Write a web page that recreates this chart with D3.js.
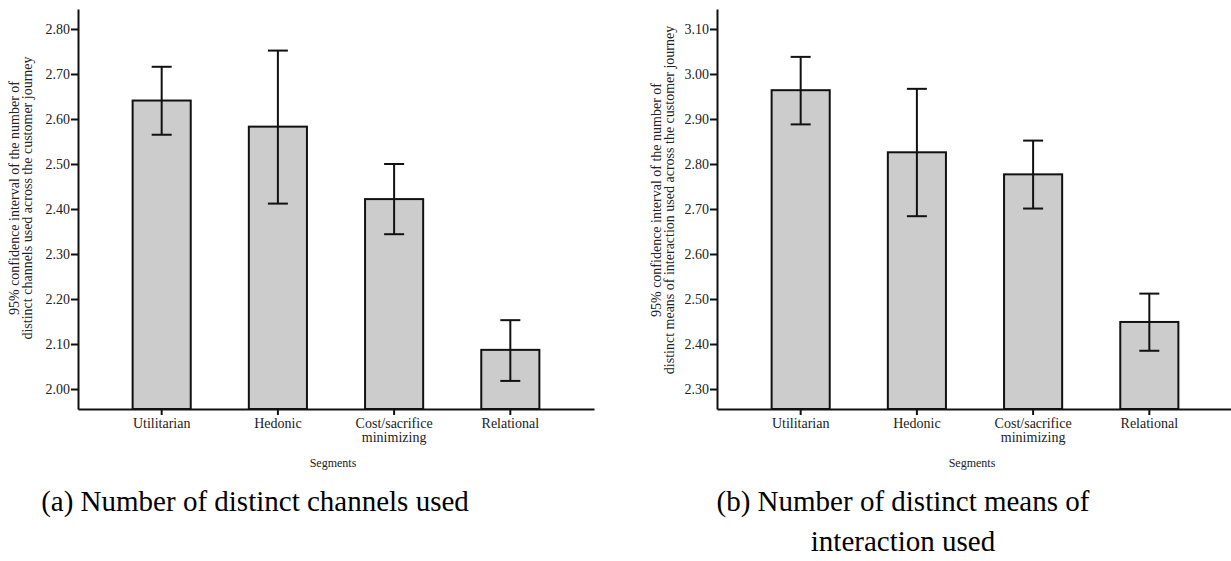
<!DOCTYPE html>
<html>
<head>
<meta charset="utf-8">
<script src="https://cdn.jsdelivr.net/npm/d3@7"></script>
<style>
  html, body { margin: 0; padding: 0; background: #fff; }
  svg { display: block; font-family: "Liberation Serif", "Times New Roman", serif; }
</style>
</head>
<body>
<svg id="chart" width="1231" height="561"></svg>
<script>
// ---- data ----
const categories = ["Utilitarian", "Hedonic", "Cost/sacrifice minimizing", "Relational"];
const categoryLines = [["Utilitarian"], ["Hedonic"], ["Cost/sacrifice", "minimizing"], ["Relational"]];

const channelsMean  = [2.641, 2.583, 2.422, 2.087];
const channelsLower = [2.565, 2.412, 2.344, 2.018];
const channelsUpper = [2.716, 2.752, 2.500, 2.153];
const channelsTicks = [2.00, 2.10, 2.20, 2.30, 2.40, 2.50, 2.60, 2.70, 2.80];

const meansMean  = [2.964, 2.826, 2.777, 2.449];
const meansLower = [2.888, 2.684, 2.701, 2.385];
const meansUpper = [3.038, 2.967, 2.852, 2.512];
const meansTicks = [2.30, 2.40, 2.50, 2.60, 2.70, 2.80, 2.90, 3.00, 3.10];

const channelsYLabel = ["95% confidence interval of the number of", "distinct channels used across the customer journey"];
const meansYLabel = ["95% confidence interval of the number of", "distinct means of interaction used across the customer journey"];
const xTitle = "Segments";
const captionA = ["(a) Number of distinct channels used"];
const captionB = ["(b) Number of distinct means of", "interaction used"];

// ---- drawing ----
const svg = d3.select("#chart");

function panel(opts) {
  const g = svg.append("g");
  const x = d3.scaleBand().domain(categories).range([opts.x0, opts.x1])
    .paddingInner(0.5).paddingOuter(0.47);
  const y = d3.scaleLinear().domain(opts.domain).range([409, 9]);

  const rows = categories.map((c, i) => ({
    c, lines: categoryLines[i], m: opts.mean[i], lo: opts.lower[i], hi: opts.upper[i]
  }));

  // bars
  g.selectAll("rect.bar").data(rows).join("rect")
    .attr("class", "bar")
    .attr("x", d => x(d.c))
    .attr("width", x.bandwidth())
    .attr("y", d => y(d.m))
    .attr("height", d => y(opts.domain[0]) - y(d.m))
    .attr("fill", "#cccccc")
    .attr("stroke", "#111")
    .attr("stroke-width", 2);

  // error bars
  const cx = d => x(d.c) + x.bandwidth() / 2;
  const eb = g.selectAll("g.err").data(rows).join("g").attr("class", "err")
    .attr("stroke", "#111").attr("stroke-width", 2);
  eb.append("line").attr("x1", cx).attr("x2", cx).attr("y1", d => y(d.lo)).attr("y2", d => y(d.hi));
  eb.append("line").attr("x1", d => cx(d) - 10).attr("x2", d => cx(d) + 10).attr("y1", d => y(d.hi)).attr("y2", d => y(d.hi));
  eb.append("line").attr("x1", d => cx(d) - 10).attr("x2", d => cx(d) + 10).attr("y1", d => y(d.lo)).attr("y2", d => y(d.lo));

  // y axis
  const ya = g.append("g").attr("transform", `translate(${opts.x0},0)`)
    .call(d3.axisLeft(y).tickValues(opts.ticks).tickFormat(d3.format(".2f"))
      .tickSize(7).tickSizeOuter(0).tickPadding(1));
  ya.selectAll("path, line").attr("stroke", "#111").attr("stroke-width", 2);
  ya.selectAll("text").attr("font-family", "Liberation Serif, Times New Roman, serif")
    .attr("font-size", 14).attr("fill", "#222");

  // x axis
  const xa = g.append("g").attr("transform", `translate(0,409)`)
    .call(d3.axisBottom(x).tickSize(6).tickSizeOuter(0));
  xa.selectAll("path, line").attr("stroke", "#111").attr("stroke-width", 2);
  xa.selectAll("text").remove();
  xa.selectAll("g.tick").each(function (c) {
    const i = categories.indexOf(c);
    const t = d3.select(this).append("text")
      .attr("font-family", "Liberation Serif, Times New Roman, serif")
      .attr("font-size", 14).attr("fill", "#222").attr("text-anchor", "middle");
    categoryLines[i].forEach((ln, k) => {
      t.append("tspan").attr("x", 0).attr("y", 19 + k * 14).text(ln);
    });
  });

  // x title
  g.append("text").attr("x", (opts.x0 + opts.x1) / 2 - 3).attr("y", 467)
    .attr("text-anchor", "middle").attr("font-size", 12).attr("fill", "#222").text(xTitle);

  // y title
  opts.ylabel.forEach((ln, k) => {
    g.append("text")
      .attr("transform", `translate(${opts.ylx[k]},${opts.lyc}) rotate(-90)`)
      .attr("text-anchor", "middle").attr("font-size", 14).attr("fill", "#222").text(ln);
  });

  // caption
  opts.caption.forEach((ln, k) => {
    g.append("text").attr("x", opts.capx).attr("y", 511 + k * 40)
      .attr("text-anchor", "middle").attr("font-size", 29).attr("fill", "#000").text(ln);
  });
}

panel({
  x0: 78, x1: 594, domain: [1.9556, 2.8444],
  mean: channelsMean, lower: channelsLower, upper: channelsUpper, ticks: channelsTicks,
  ylabel: channelsYLabel, ylx: [19, 32], lyc: 198, caption: captionA, capx: 255
});
panel({
  x0: 717, x1: 1233, domain: [2.2556, 3.1444],
  mean: meansMean, lower: meansLower, upper: meansUpper, ticks: meansTicks,
  ylabel: meansYLabel, ylx: [661, 674], lyc: 200, caption: captionB, capx: 903
});
</script>
</body>
</html>
